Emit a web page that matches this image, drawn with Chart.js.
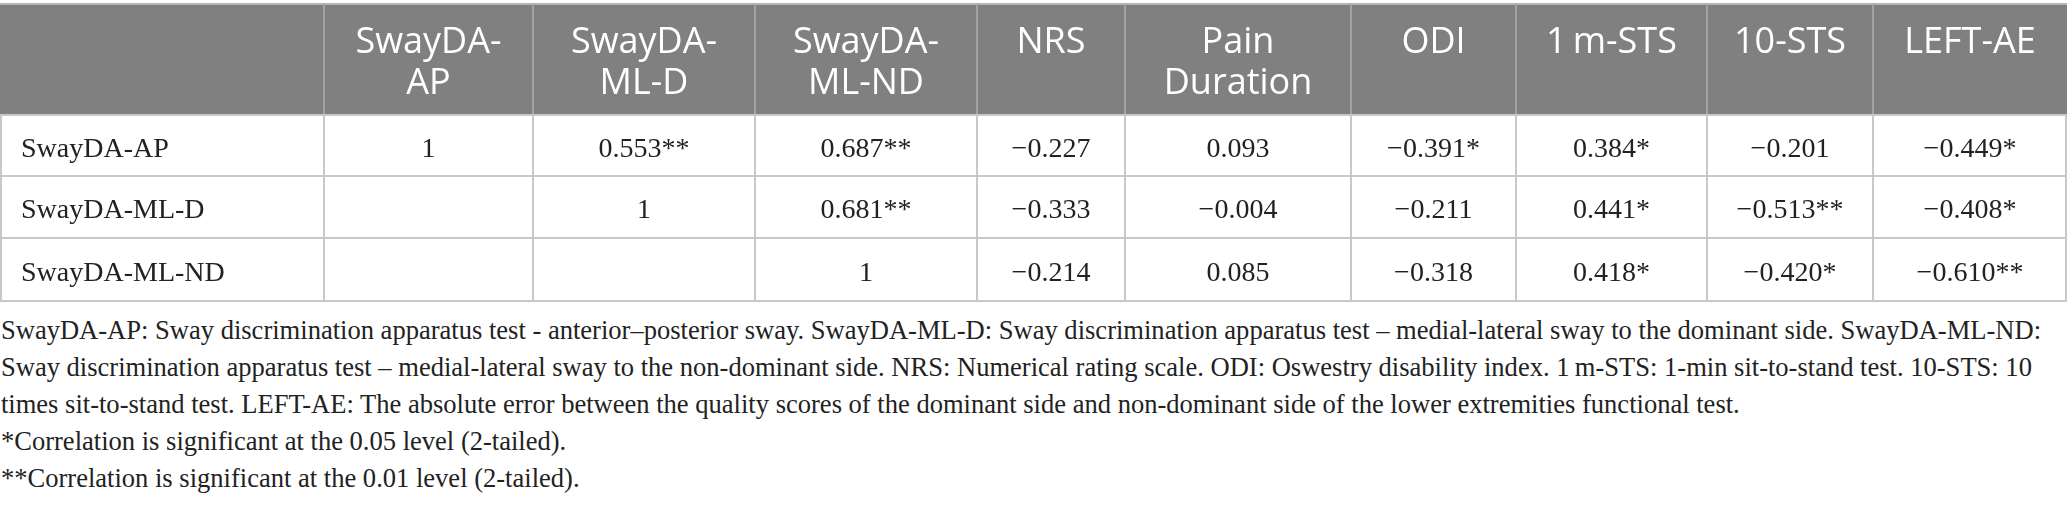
<!DOCTYPE html>
<html>
<head>
<meta charset="utf-8">
<script src="https://cdn.jsdelivr.net/npm/chart.js@4.4.1/dist/chart.umd.min.js"></script>
<style>
  html, body { margin: 0; padding: 0; background: #fff; }
  #wrap { position: relative; width: 2067px; height: 305px; }
  #notes {
    margin-top: 6px;
    font-family: "Liberation Serif", serif;
    font-size: 28px;
    line-height: 37px;
    color: #222;
    white-space: pre;
    transform-origin: left top;
    width: max-content;
    padding-left: 1px;
  }
</style>
</head>
<body>
<div id="wrap"><canvas id="tbl"></canvas></div>
<div id="notes"></div>
<script>
// table content
const columns = ["", "SwayDA-\nAP", "SwayDA-\nML-D", "SwayDA-\nML-ND", "NRS", "Pain\nDuration", "ODI", "1\u2009m-STS", "10-STS", "LEFT-AE"];
const rowLabels = ["SwayDA-AP", "SwayDA-ML-D", "SwayDA-ML-ND"];

const swayAP   = [1, 0.553, 0.687, -0.227, 0.093, -0.391, 0.384, -0.201, -0.449];
const swayMLD  = [null, 1, 0.681, -0.333, -0.004, -0.211, 0.441, -0.513, -0.408];
const swayMLND = [null, null, 1, -0.214, 0.085, -0.318, 0.418, -0.420, -0.610];

// number of asterisks per cell (* p<0.05, ** p<0.01)
const sigAP   = [0, 2, 2, 0, 0, 1, 1, 0, 1];
const sigMLD  = [0, 0, 2, 0, 0, 0, 1, 2, 1];
const sigMLND = [0, 0, 0, 0, 0, 0, 1, 1, 2];

const footnotes = [
  "SwayDA-AP: Sway discrimination apparatus test - anterior\u2013posterior sway. SwayDA-ML-D: Sway discrimination apparatus test \u2013 medial-lateral sway to the dominant side. SwayDA-ML-ND:",
  "Sway discrimination apparatus test \u2013 medial-lateral sway to the non-dominant side. NRS: Numerical rating scale. ODI: Oswestry disability index. 1\u2009m-STS: 1-min sit-to-stand test. 10-STS: 10",
  "times sit-to-stand test. LEFT-AE: The absolute error between the quality scores of the dominant side and non-dominant side of the lower extremities functional test.",
  "*Correlation is significant at the 0.05 level (2-tailed).",
  "**Correlation is significant at the 0.01 level (2-tailed)."
];

// layout (scale units = pixels)
const colEdges = [0, 324, 533, 755, 977, 1125, 1351, 1516, 1707, 1873, 2067];
const rowEdges = [4, 115, 176, 238, 301];
const HEAD_FONT = '36px "Open Sans", sans-serif';
const BODY_FONT = '28px "Liberation Serif", serif';

function fmt(v, stars) {
  if (v === null) return "";
  let s = v === 1 ? "1" : Math.abs(v).toFixed(3);
  if (v < 0) s = "\u2212" + s;
  return s + "*".repeat(stars);
}

const mid = (a, i) => (a[i] + a[i + 1]) / 2;

const headerPts = columns.map((c, i) => ({ x: mid(colEdges, i), y: 53, label: c }));
const bodyPts = [];
[[swayAP, sigAP], [swayMLD, sigMLD], [swayMLND, sigMLND]].forEach(([vals, sig], r) => {
  bodyPts.push({ x: 21, y: mid(rowEdges, r + 1), label: rowLabels[r], align: "left" });
  vals.forEach((v, c) => {
    bodyPts.push({ x: mid(colEdges, c + 1), y: mid(rowEdges, r + 1), label: fmt(v, sig[c]), align: "center" });
  });
});

const tablePlugin = {
  id: "tablePlugin",
  beforeDatasetsDraw(chart) {
    const { ctx, scales: { x, y } } = chart;
    const px = v => x.getPixelForValue(v);
    const py = v => y.getPixelForValue(v);
    ctx.save();
    // header band
    ctx.fillStyle = "#808080";
    ctx.fillRect(px(0), py(rowEdges[0]), px(2067) - px(0), py(rowEdges[1]) - py(rowEdges[0]));
    ctx.lineWidth = 2;
    ctx.strokeStyle = "#b5b5b5";
    ctx.beginPath();
    ctx.moveTo(px(0), py(rowEdges[0])); ctx.lineTo(px(2067), py(rowEdges[0]));
    ctx.stroke();
    // header separators
    ctx.strokeStyle = "#a3a3a3";
    ctx.beginPath();
    colEdges.slice(1, -1).forEach(e => {
      ctx.moveTo(px(e), py(rowEdges[0])); ctx.lineTo(px(e), py(rowEdges[1]));
    });
    ctx.stroke();
    // body grid
    ctx.strokeStyle = "#c8c8c8";
    ctx.beginPath();
    colEdges.forEach((e, i) => {
      const xx = i === 0 ? px(e) + 1 : (i === colEdges.length - 1 ? px(e) - 1 : px(e));
      ctx.moveTo(xx, py(rowEdges[1])); ctx.lineTo(xx, py(rowEdges[4]));
    });
    rowEdges.slice(1).forEach(e => {
      ctx.moveTo(px(0), py(e)); ctx.lineTo(px(2067), py(e));
    });
    ctx.stroke();
    ctx.restore();
  },
  afterDatasetsDraw(chart) {
    const { ctx } = chart;
    ctx.save();
    // header labels
    const hMeta = chart.getDatasetMeta(0);
    ctx.font = HEAD_FONT;
    ctx.fillStyle = "#ffffff";
    ctx.textAlign = "center";
    ctx.textBaseline = "alphabetic";
    hMeta.data.forEach((el, i) => {
      const lines = headerPts[i].label.split("\n");
      lines.forEach((ln, k) => ctx.fillText(ln, el.x, el.y + k * 41));
    });
    // body cells
    const bMeta = chart.getDatasetMeta(1);
    ctx.font = BODY_FONT;
    ctx.fillStyle = "#222222";
    bMeta.data.forEach((el, i) => {
      const p = bodyPts[i];
      ctx.textAlign = p.align;
      ctx.fillText(p.label, el.x, el.y + 11);
    });
    ctx.restore();
  }
};

new Chart(document.getElementById("tbl"), {
  type: "scatter",
  data: {
    datasets: [
      { data: headerPts, pointRadius: 0 },
      { data: bodyPts, pointRadius: 0 }
    ]
  },
  options: {
    responsive: true,
    maintainAspectRatio: false,
    animation: false,
    devicePixelRatio: 1,
    layout: { padding: 0 },
    plugins: { legend: { display: false }, tooltip: { enabled: false } },
    scales: {
      x: { type: "linear", min: 0, max: 2067, display: false },
      y: { type: "linear", min: 0, max: 305, reverse: true, display: false }
    }
  },
  plugins: [tablePlugin]
});

// footnotes below the table, squeezed to the condensed width of the original
const notes = document.getElementById("notes");
notes.textContent = footnotes.join("\n");
const mctx = document.createElement("canvas").getContext("2d");
mctx.font = '28px "Liberation Serif", serif';
const w0 = mctx.measureText(footnotes[0]).width;
notes.style.transform = "scaleX(" + (2040 / w0).toFixed(4) + ")";
</script>
</body>
</html>
